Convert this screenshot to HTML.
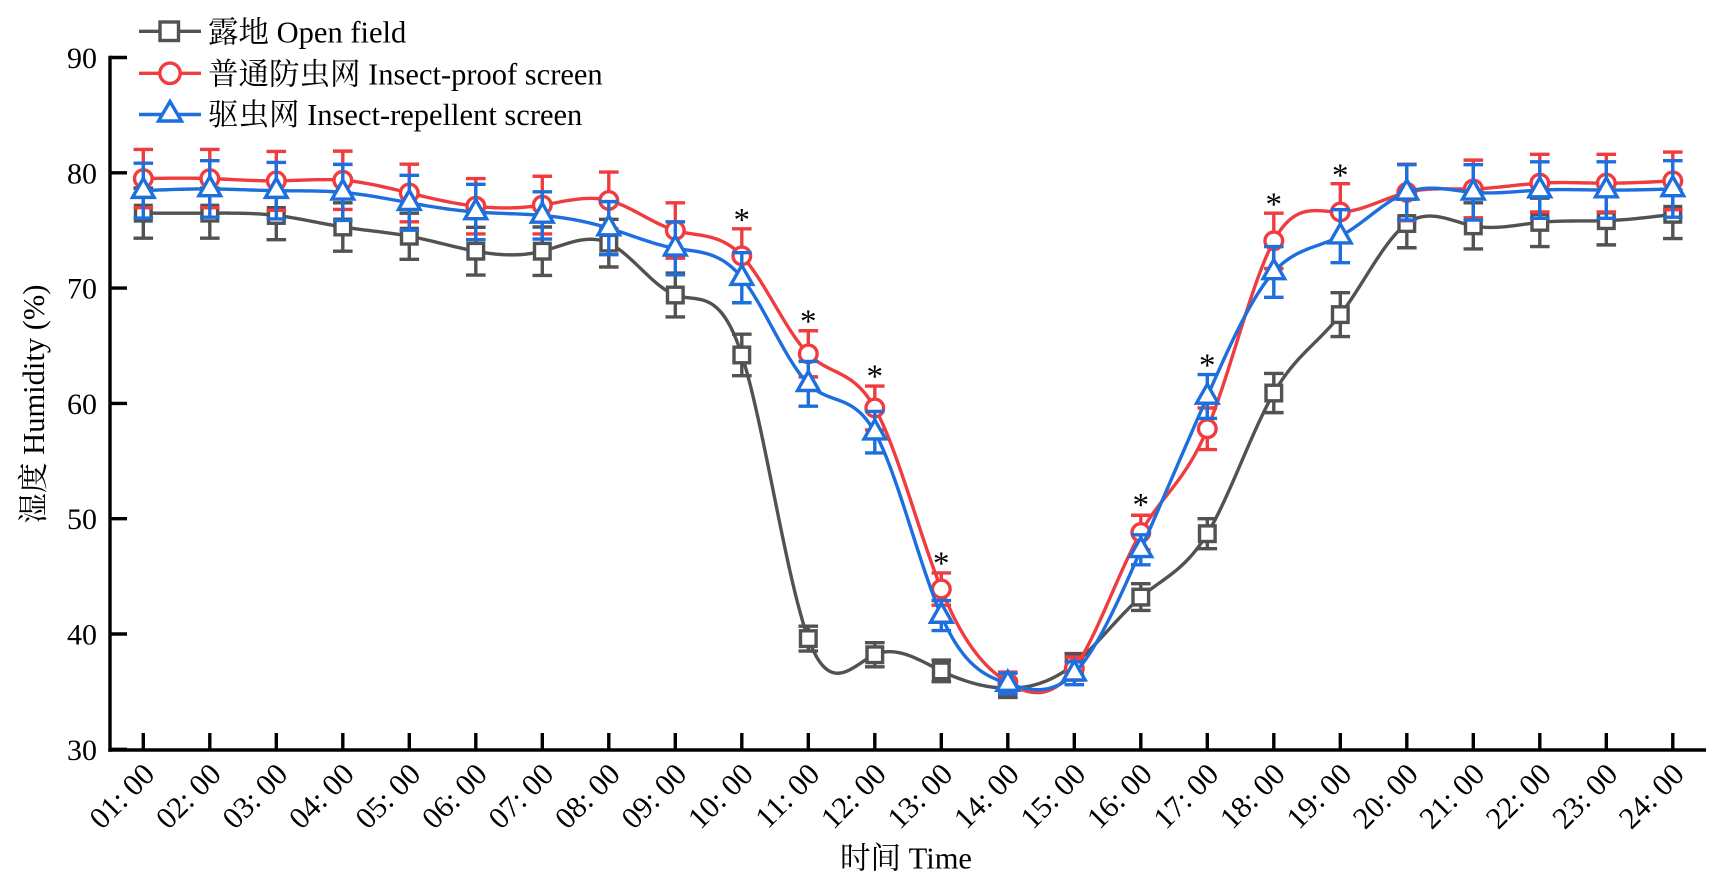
<!DOCTYPE html>
<html><head><meta charset="utf-8">
<style>
html,body{margin:0;padding:0;background:#fff;}
svg{display:block;}
text{font-family:"Liberation Serif","Noto Serif CJK SC","Noto Sans CJK SC",serif;fill:#000;}
</style></head>
<body>
<svg id="chart" width="1722" height="893" viewBox="0 0 1722 893" xmlns="http://www.w3.org/2000/svg">
<rect x="0" y="0" width="1722" height="893" fill="#fff"/>
<!-- axes -->
<g stroke="#000" stroke-width="3.4" fill="none">
<line x1="110" y1="55.8" x2="110" y2="751.7"/>
<line x1="108.3" y1="750" x2="1706" y2="750"/>
<line x1="110" y1="57.5" x2="127" y2="57.5"/>
<line x1="110" y1="172.8" x2="127" y2="172.8"/>
<line x1="110" y1="288.1" x2="127" y2="288.1"/>
<line x1="110" y1="403.4" x2="127" y2="403.4"/>
<line x1="110" y1="518.7" x2="127" y2="518.7"/>
<line x1="110" y1="634" x2="127" y2="634"/>
<line x1="110" y1="749.3" x2="127" y2="749.3"/>
<g id="xticks"></g>
</g>
<!-- y tick labels -->
<g font-size="30" text-anchor="end">
<text x="97" y="68">90</text>
<text x="97" y="183.3">80</text>
<text x="97" y="298.6">70</text>
<text x="97" y="413.9">60</text>
<text x="97" y="529.2">50</text>
<text x="97" y="644.5">40</text>
<text x="97" y="759.8">30</text>
</g>
<!-- x tick labels -->
<g font-size="30.5" text-anchor="end">
<text transform="translate(156.3,776) rotate(-45)">01: 00</text>
<text transform="translate(222.8,776) rotate(-45)">02: 00</text>
<text transform="translate(289.3,776) rotate(-45)">03: 00</text>
<text transform="translate(355.8,776) rotate(-45)">04: 00</text>
<text transform="translate(422.3,776) rotate(-45)">05: 00</text>
<text transform="translate(488.8,776) rotate(-45)">06: 00</text>
<text transform="translate(555.3,776) rotate(-45)">07: 00</text>
<text transform="translate(621.8,776) rotate(-45)">08: 00</text>
<text transform="translate(688.3,776) rotate(-45)">09: 00</text>
<text transform="translate(754.8,776) rotate(-45)">10: 00</text>
<text transform="translate(821.3,776) rotate(-45)">11: 00</text>
<text transform="translate(887.8,776) rotate(-45)">12: 00</text>
<text transform="translate(954.3,776) rotate(-45)">13: 00</text>
<text transform="translate(1020.8,776) rotate(-45)">14: 00</text>
<text transform="translate(1087.3,776) rotate(-45)">15: 00</text>
<text transform="translate(1153.8,776) rotate(-45)">16: 00</text>
<text transform="translate(1220.3,776) rotate(-45)">17: 00</text>
<text transform="translate(1286.8,776) rotate(-45)">18: 00</text>
<text transform="translate(1353.3,776) rotate(-45)">19: 00</text>
<text transform="translate(1419.8,776) rotate(-45)">20: 00</text>
<text transform="translate(1486.3,776) rotate(-45)">21: 00</text>
<text transform="translate(1552.8,776) rotate(-45)">22: 00</text>
<text transform="translate(1619.3,776) rotate(-45)">23: 00</text>
<text transform="translate(1685.8,776) rotate(-45)">24: 00</text>
</g>
<!-- axis titles -->
<text x="906" y="868.5" font-size="30.5" text-anchor="middle">时间 Time</text>
<text transform="translate(44,404) rotate(-90)" font-size="30.5" text-anchor="middle">湿度 Humidity (%)</text>
<!-- series -->
<g id="series"></g>
<!-- asterisks -->
<g font-size="33" text-anchor="middle">
<text x="741.8" y="230.5">*</text>
<text x="808.3" y="332.2">*</text>
<text x="874.8" y="387.2">*</text>
<text x="941.3" y="573.8">*</text>
<text x="1140.8" y="515.5">*</text>
<text x="1207.3" y="376">*</text>
<text x="1273.8" y="214.8">*</text>
<text x="1340.3" y="186.2">*</text>
</g>
<!-- legend -->
<g stroke-width="3.4" fill="#fff">
<line x1="139" y1="31.3" x2="201" y2="31.3" stroke="#525252"/>
<rect x="160" y="22" width="18.5" height="18.5" stroke="#525252"/>
<line x1="139" y1="73.3" x2="201" y2="73.3" stroke="#f03c3f"/>
<circle cx="170" cy="73.3" r="10.2" stroke="#f03c3f"/>
<line x1="139" y1="114.5" x2="201" y2="114.5" stroke="#1c6fdc"/>
<path d="M170 101.5 L181.5 121 L158.5 121 Z" stroke="#1c6fdc" stroke-linejoin="miter"/>
</g>
<g font-size="30.5">
<text x="208" y="42.5">露地 Open field</text>
<text x="208" y="84.5">普通防虫网 Insect-proof screen</text>
<text x="208" y="125">驱虫网 Insect-repellent screen</text>
</g>
</svg>
<script>
(function(){
var NS="http://www.w3.org/2000/svg";
function X(h){return 143.3+(h-1)*66.5;}
function Y(v){return 749.3-(v-30)*11.53;}
var xt=document.getElementById('xticks');
for(var h=1;h<=24;h++){
  var l=document.createElementNS(NS,'line');
  l.setAttribute('x1',X(h));l.setAttribute('x2',X(h));
  l.setAttribute('y1',750);l.setAttribute('y2',733);
  xt.appendChild(l);
}
var gray={c:"#525252",m:"sq",
 v:[76.5,76.5,76.3,75.3,74.5,73.2,73.2,73.9,69.4,64.2,39.6,38.2,36.8,35.3,37.4,43.2,48.7,60.9,67.7,75.6,75.4,75.7,75.85,76.4],
 e:[2.17,2.17,2.1,2.1,2.0,2.07,2.1,2.07,1.9,1.8,1.08,1.05,0.94,0.8,0.9,1.16,1.3,1.7,1.9,2.1,2.0,2.1,2.1,2.1]};
var red={c:"#f03c3f",m:"ci",
 v:[79.5,79.5,79.3,79.35,78.25,77.1,77.2,77.6,75.0,72.8,64.3,59.6,43.9,35.8,37.0,48.8,57.8,74.1,76.6,78.3,78.6,79.1,79.1,79.3],
 e:[2.53,2.53,2.55,2.53,2.5,2.4,2.5,2.46,2.4,2.34,2.0,1.9,1.4,0.9,1.0,1.5,1.8,2.4,2.46,2.45,2.5,2.5,2.5,2.5]};
var blue={c:"#1c6fdc",m:"tr",
 v:[78.45,78.6,78.45,78.3,77.4,76.6,76.3,75.2,73.45,70.9,61.7,57.5,41.6,35.7,36.6,47.3,60.6,71.4,74.5,78.3,78.3,78.5,78.5,78.6],
 e:[2.38,2.45,2.45,2.43,2.38,2.4,2.05,2.3,2.3,2.17,1.94,1.8,1.3,0.9,1.0,1.3,1.9,2.2,2.3,2.4,2.4,2.45,2.45,2.45]};
var root=document.getElementById('series');
function el(tag,attrs,parent){var e=document.createElementNS(NS,tag);for(var k in attrs)e.setAttribute(k,attrs[k]);parent.appendChild(e);return e;}
function splinePath(ys){
  var n=ys.length,h=66.5,M=new Array(n).fill(0);
  var a=[],b=[],c=[],d=[];
  for(var i=1;i<n-1;i++){a.push(1);b.push(4);c.push(1);d.push(6*(ys[i+1]-2*ys[i]+ys[i-1])/(h*h));}
  var m=d.length;
  for(var i=1;i<m;i++){var w=a[i]/b[i-1];b[i]-=w*c[i-1];d[i]-=w*d[i-1];}
  var sol=new Array(m);
  sol[m-1]=d[m-1]/b[m-1];
  for(var i=m-2;i>=0;i--){sol[i]=(d[i]-c[i]*sol[i+1])/b[i];}
  for(var i=0;i<m;i++)M[i+1]=sol[i];
  var p="M"+X(1).toFixed(2)+" "+ys[0].toFixed(2);
  for(var i=0;i<n-1;i++){
    for(var s=1;s<=24;s++){
      var t=s/24,u=1-t;
      var y=u*ys[i]+t*ys[i+1]+h*h/6*((u*u*u-u)*M[i]+(t*t*t-t)*M[i+1]);
      var x=X(i+1)+t*h;
      p+=" L"+x.toFixed(2)+" "+y.toFixed(2);
    }
  }
  return p;
}
var SW=3.4;
function draw(s){
  var g=el('g',{},root);
  var ys=s.v.map(Y);
  el('path',{d:splinePath(ys),fill:'none',stroke:s.c,'stroke-width':SW,'stroke-linejoin':'round'},g);
  for(var i=0;i<24;i++){
    var x=X(i+1),y=ys[i],e=s.e[i]*11.53;
    el('line',{x1:x,x2:x,y1:y-e,y2:y+e,stroke:s.c,'stroke-width':SW},g);
    el('line',{x1:x-9.8,x2:x+9.8,y1:y-e,y2:y-e,stroke:s.c,'stroke-width':SW},g);
    el('line',{x1:x-9.8,x2:x+9.8,y1:y+e,y2:y+e,stroke:s.c,'stroke-width':SW},g);
  }
  for(var i=0;i<24;i++){
    var x=X(i+1),y=ys[i];
    if(s.m==='sq'){
      el('rect',{x:x-7.8,y:y-7.8,width:15.6,height:15.6,fill:'#fff',stroke:s.c,'stroke-width':SW},g);
    }else if(s.m==='ci'){
      el('circle',{cx:x,cy:y,r:8.8,fill:'#fff',stroke:s.c,'stroke-width':SW},g);
    }else{
      el('path',{d:"M"+x+" "+(y-12.3)+" L"+(x+10.8)+" "+(y+6.7)+" L"+(x-10.8)+" "+(y+6.7)+" Z",fill:'#fff',stroke:s.c,'stroke-width':SW},g);
    }
  }
}
draw(gray);draw(red);draw(blue);
})();
</script>
</body></html>
